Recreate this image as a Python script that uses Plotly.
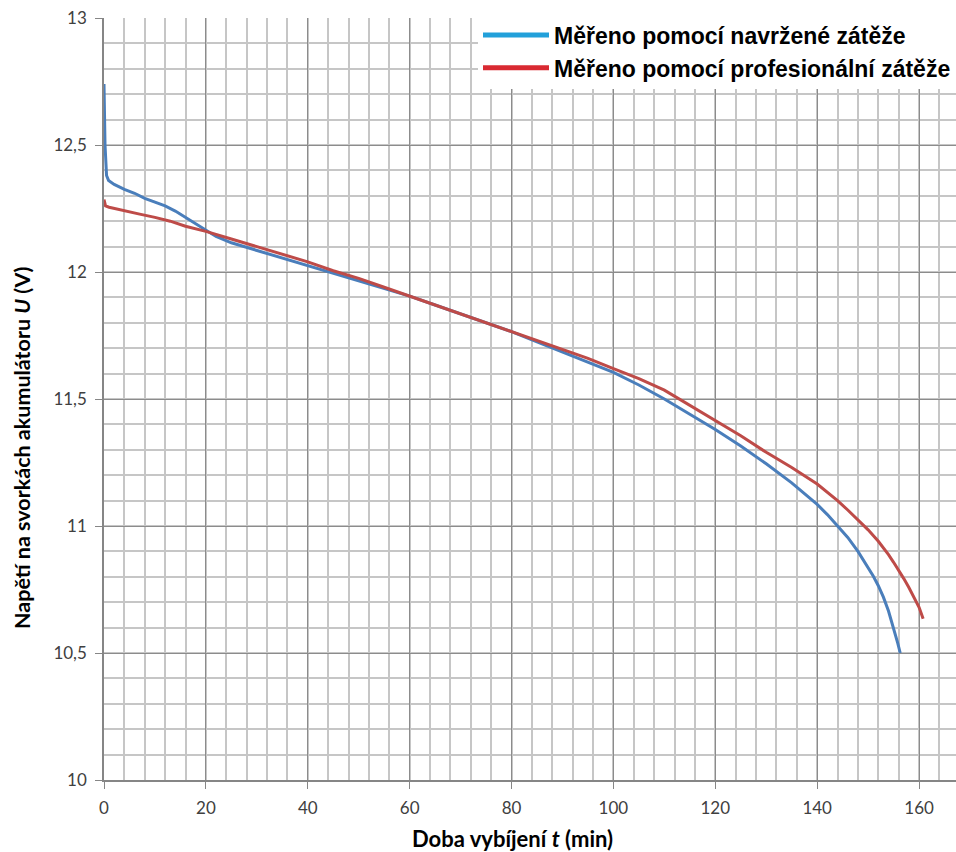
import plotly.graph_objects as go

# Discharge curve measured with the designed load
t_designed = [0, 0.2, 0.5, 0.9, 2, 4, 6, 8, 10, 12, 14, 16, 18, 20, 22, 25, 30, 35, 40,
              45, 50, 55, 60, 65, 70, 75, 80, 85, 90, 95, 100, 105, 110, 115, 120, 125,
              130, 135, 140, 142, 144, 146, 148, 150, 151, 152, 153, 154, 155, 155.8, 156.3]
u_designed = [12.74, 12.50, 12.38, 12.36, 12.345, 12.325, 12.31, 12.29, 12.275, 12.26,
              12.24, 12.215, 12.19, 12.165, 12.14, 12.115, 12.085, 12.055, 12.025,
              11.995, 11.965, 11.935, 11.905, 11.87, 11.835, 11.80, 11.765, 11.725,
              11.685, 11.645, 11.605, 11.555, 11.50, 11.44, 11.38, 11.315, 11.245,
              11.17, 11.085, 11.045, 11.00, 10.955, 10.90, 10.838, 10.803, 10.765,
              10.72, 10.665, 10.60, 10.54, 10.50]

# Discharge curve measured with the professional load
t_prof = [0, 0.3, 1, 3, 5, 7, 10, 13, 16, 20, 25, 30, 35, 40, 45, 50, 55, 60, 65, 70,
          75, 80, 85, 90, 95, 100, 105, 110, 115, 120, 125, 130, 135, 140, 144, 146,
          148, 150, 152, 153, 154, 155, 156, 157, 158, 159, 160, 160.8]
u_prof = [12.285, 12.26, 12.255, 12.245, 12.235, 12.228, 12.215, 12.20, 12.18, 12.16,
          12.13, 12.10, 12.07, 12.04, 12.005, 11.975, 11.94, 11.905, 11.87, 11.835,
          11.80, 11.765, 11.73, 11.695, 11.66, 11.62, 11.58, 11.535, 11.475, 11.415,
          11.355, 11.29, 11.23, 11.165, 11.10, 11.063, 11.025, 10.985, 10.94, 10.915,
          10.887, 10.857, 10.826, 10.793, 10.758, 10.72, 10.68, 10.635]

series_names = ["Měřeno pomocí navržené zátěže", "Měřeno pomocí profesionální zátěže"]
x_ticks = [0, 20, 40, 60, 80, 100, 120, 140, 160]
y_ticks = [10, 10.5, 11, 11.5, 12, 12.5, 13]
x_title = "Doba vybíjení <i>t</i> (min)"
y_title = "Napětí na svorkách akumulátoru <i>U</i> (V)"

line_colors = ["#4a7ebb", "#be4b48"]
legend_colors = ["#22a0da", "#d92a32"]

fig = go.Figure()
for t, u, col in [(t_designed, u_designed, line_colors[0]), (t_prof, u_prof, line_colors[1])]:
    fig.add_trace(go.Scatter(x=t, y=u, mode="lines", showlegend=False,
                             line=dict(color=col, width=3)))

# legend entries
for name, col in zip(series_names, legend_colors):
    fig.add_trace(go.Scatter(x=[None], y=[None], mode="lines", name=name,
                             line=dict(color=col, width=5)))

tick_font = dict(family="Lato, Open Sans, sans-serif", size=17, color="#404040")
title_font = dict(family="Lato, Open Sans, sans-serif", size=22, color="#000000", weight="bold")
y_title_font = dict(title_font, size=21.5)

fig.update_layout(
    width=956, height=852,
    margin=dict(l=104, r=0, t=18, b=72),
    paper_bgcolor="white", plot_bgcolor="white",
    separators=", ",
    xaxis=dict(
        range=[0, 167.25], tickvals=x_ticks, ticks="outside", ticklen=7,
        tickcolor="#868686", tickwidth=1, ticklabelstandoff=5,
        showgrid=True, gridcolor="#8c8c8c", gridwidth=1,
        minor=dict(dtick=4, showgrid=True, gridcolor="#c6c6c6", gridwidth=1.5),
        showline=True, linecolor="#868686", linewidth=1.5,
        tickfont=tick_font, zeroline=False,
    ),
    yaxis=dict(
        range=[10, 13], tickvals=y_ticks, ticks="outside", ticklen=7,
        tickcolor="#868686", tickwidth=1, ticklabelstandoff=5,
        showgrid=True, gridcolor="#8c8c8c", gridwidth=1,
        minor=dict(dtick=0.1, showgrid=True, gridcolor="#c6c6c6", gridwidth=1.5),
        showline=True, linecolor="#868686", linewidth=1.5,
        tickfont=tick_font, zeroline=False,
    ),
    legend=dict(
        x=1, y=1.006, xanchor="right", yanchor="top",
        bgcolor="white", borderwidth=0,
        font=dict(family="Liberation Sans, Arial, sans-serif", size=23,
                  color="#000000", weight="bold"),
        itemwidth=66, tracegroupgap=0,
    ),
)

# axis titles
fig.add_annotation(text=x_title, xref="paper", yref="paper", x=(512 - 104) / 852, y=-58 / 762,
                   xanchor="center", yanchor="middle", showarrow=False, font=title_font)
fig.add_annotation(text=y_title, xref="paper", yref="paper", x=-82 / 852, y=(780 - 448) / 762,
                   xanchor="center", yanchor="middle", showarrow=False, textangle=-90,
                   font=y_title_font)

fig.write_html("out.html")
